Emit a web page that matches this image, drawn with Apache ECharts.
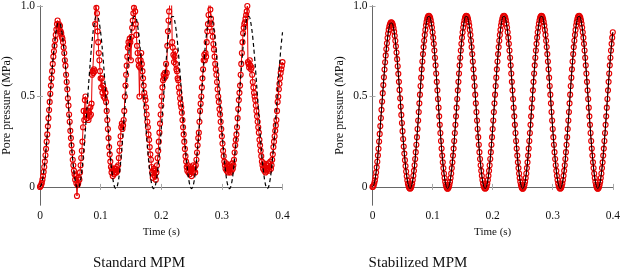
<!DOCTYPE html>
<html><head><meta charset="utf-8">
<script src="https://cdn.jsdelivr.net/npm/echarts@6/dist/echarts.min.js"></script>
<style>html,body{margin:0;padding:0;background:#fff}#c{width:623px;height:271px}</style>
</head><body><div id="c"></div>
<script>
// ---- data (pore pressure in MPa) ----
const stdStep = 0.001;   // s between Standard / Stabilized MPM samples
const anaStep = 0.0025;  // s between analytical samples
const xTicks = [0, 0.1, 0.2, 0.3, 0.4];
const yTicks = [0, 0.5, 1.0];

const analytical = [
0.000,0.014,0.056,0.123,0.211,0.314,0.426,0.540,0.649,0.745,0.823,0.878,0.906,0.906,0.878,0.822,0.743,0.646,0.536,0.421,0.308,0.204,0.115,0.047,0.005,
-0.010,0.005,0.049,0.120,0.212,0.320,0.438,0.558,0.672,0.773,0.855,0.912,0.942,0.942,0.912,0.855,0.773,0.672,0.558,0.438,0.320,0.212,0.120,0.049,0.005,
-0.010,0.005,0.049,0.120,0.212,0.320,0.438,0.558,0.672,0.773,0.855,0.912,0.942,0.942,0.912,0.855,0.773,0.672,0.558,0.438,0.320,0.212,0.120,0.049,0.005,
-0.010,0.005,0.049,0.120,0.212,0.320,0.438,0.558,0.672,0.773,0.855,0.912,0.942,0.942,0.912,0.855,0.773,0.672,0.558,0.438,0.320,0.212,0.120,0.049,0.005,
-0.010,0.005,0.049,0.120,0.212,0.320,0.438,0.558,0.672,0.773,0.855,0.912,0.942,0.942,0.912,0.855,0.773,0.672,0.558,0.438,0.320,0.212,0.120,0.049,0.005,
-0.010,0.005,0.049,0.120,0.212,0.320,0.438,0.558,0.672,0.773,0.855,0.912,0.942,0.942,0.912,0.855,0.773,0.672,0.558,0.438,0.320,0.212,0.120,0.049,0.005,
-0.010,0.005,0.049,0.120,0.212,0.320,0.438,0.558,0.672,0.773,0.855
];

const standardMPM = [
0.000,0.005,0.012,0.022,0.040,0.060,0.083,0.110,0.140,0.175,0.210,0.250,0.290,0.335,0.380,0.425,0.470,0.515,0.560,0.600,0.640,0.680,0.720,0.750,0.780,0.810,0.840,0.870,0.900,0.920,0.880,0.900,
0.87,0.89,0.86,0.85,0.83,0.82,0.80,0.77,0.74,0.70,0.67,0.62,0.58,0.54,0.49,0.45,0.40,0.36,0.31,0.27,0.23,0.19,0.15,0.12,0.09,0.07,0.04,0.06,0.02,-0.05,0.01,
0.02,0.05,0.04,0.08,0.12,0.16,0.20,0.25,0.33,0.42,0.37,0.48,0.50,0.42,0.40,0.38,0.42,0.37,0.41,0.39,0.44,0.40,0.46,0.62,0.64,0.63,0.65,0.64,0.90,1.02,0.99,
0.96,0.86,0.80,0.74,0.70,0.64,0.60,0.55,0.60,0.52,0.56,0.50,0.54,0.49,0.52,0.47,0.42,0.37,0.32,0.27,0.22,0.18,0.14,0.11,0.08,0.10,0.06,0.09,0.07,0.10,0.08,
0.10,0.08,0.11,0.09,0.12,0.16,0.20,0.24,0.28,0.33,0.35,0.32,0.34,0.37,0.42,0.50,0.56,0.62,0.67,0.72,0.77,0.80,0.78,0.82,0.80,0.70,0.83,0.88,0.92,0.96,0.99,1.02,
0.97,0.90,0.84,0.78,0.74,0.70,0.67,0.50,0.66,0.70,0.74,0.68,0.64,0.60,0.56,0.52,0.50,0.48,0.44,0.40,0.36,0.33,0.29,0.26,0.22,0.18,0.15,0.11,0.08,0.05,0.09,
0.10,0.06,0.09,0.04,0.08,0.12,0.16,0.20,0.25,0.30,0.35,0.40,0.45,0.50,0.55,0.59,0.62,0.60,0.63,0.61,0.68,0.63,0.78,0.86,0.92,0.97,1.01,1.05,1.08,1.04,0.80,
0.77,0.73,0.69,0.72,0.75,0.68,0.65,0.64,0.60,0.59,0.55,0.52,0.49,0.46,0.44,0.41,0.37,0.33,0.29,0.25,0.21,0.17,0.14,0.11,0.09,0.12,0.08,0.10,0.07,0.11,0.09,
0.06,0.10,0.08,0.12,0.09,0.11,0.08,0.12,0.15,0.19,0.23,0.27,0.30,0.36,0.42,0.46,0.50,0.55,0.60,0.65,0.70,0.73,0.70,0.74,0.72,0.80,0.86,0.90,0.95,1.05,1.08,0.98,
0.93,0.90,0.86,0.83,0.79,0.76,0.72,0.68,0.65,0.62,0.58,0.54,0.50,0.47,0.43,0.40,0.36,0.32,0.28,0.24,0.20,0.17,0.14,0.12,0.10,0.13,0.09,0.12,0.08,0.11,0.09,
0.12,0.08,0.11,0.09,0.13,0.10,0.12,0.15,0.19,0.23,0.26,0.29,0.33,0.38,0.43,0.48,0.52,0.56,0.62,0.68,0.74,0.80,0.85,0.88,0.90,0.91,0.93,0.95,0.97,1.00,0.69,
0.68,0.66,0.70,0.67,0.65,0.66,0.62,0.58,0.55,0.52,0.50,0.48,0.45,0.42,0.39,0.36,0.33,0.30,0.26,0.23,0.20,0.17,0.14,0.12,0.10,0.13,0.09,0.11,0.08,0.12,0.09,
0.12,0.10,0.13,0.09,0.11,0.14,0.10,0.12,0.15,0.18,0.22,0.25,0.28,0.31,0.34,0.37,0.42,0.47,0.50,0.54,0.57,0.60,0.63,0.65,0.67,0.69
];

const stabilizedMPM = [
0.000,0.002,0.009,0.021,0.036,0.056,0.080,0.108,0.139,0.174,0.211,0.251,0.293,0.336,0.381,0.426,0.472,0.518,0.563,0.606,0.649,0.689,0.727,0.762,0.794,0.823,0.848,0.869,0.886,0.898,0.906,0.910,
0.909,0.903,0.893,0.878,0.859,0.835,0.808,0.777,0.743,0.706,0.667,0.625,0.581,0.536,0.490,0.444,0.398,0.353,0.308,0.265,0.223,0.184,0.148,0.115,0.085,0.059,0.036,0.018,0.005,-0.005,-0.009,
-0.009,-0.005,0.005,0.019,0.038,0.061,0.089,0.120,0.154,0.192,0.233,0.275,0.320,0.367,0.414,0.462,0.510,0.558,0.604,0.650,0.693,0.734,0.773,0.808,0.840,0.868,0.893,0.912,0.928,0.939,0.945,
0.946,0.942,0.934,0.921,0.903,0.881,0.855,0.825,0.791,0.754,0.714,0.672,0.627,0.581,0.534,0.486,0.438,0.390,0.343,0.298,0.254,0.212,0.173,0.136,0.104,0.074,0.049,0.028,0.012,0.000,-0.008,
-0.010,-0.008,0.000,0.012,0.028,0.049,0.074,0.104,0.136,0.173,0.212,0.254,0.298,0.343,0.390,0.438,0.486,0.534,0.581,0.627,0.672,0.714,0.754,0.791,0.825,0.855,0.881,0.903,0.921,0.934,0.942,0.946,
0.945,0.939,0.928,0.912,0.893,0.868,0.840,0.808,0.773,0.734,0.693,0.650,0.604,0.558,0.510,0.462,0.414,0.367,0.320,0.275,0.233,0.192,0.154,0.120,0.089,0.061,0.038,0.019,0.005,-0.005,-0.009,
-0.009,-0.005,0.005,0.019,0.038,0.061,0.089,0.120,0.154,0.192,0.233,0.275,0.320,0.367,0.414,0.462,0.510,0.558,0.604,0.650,0.693,0.734,0.773,0.808,0.840,0.868,0.893,0.912,0.928,0.939,0.945,
0.946,0.942,0.934,0.921,0.903,0.881,0.855,0.825,0.791,0.754,0.714,0.672,0.627,0.581,0.534,0.486,0.438,0.390,0.343,0.298,0.254,0.212,0.173,0.136,0.104,0.074,0.049,0.028,0.012,0.000,-0.008,
-0.010,-0.008,0.000,0.012,0.028,0.049,0.074,0.104,0.136,0.173,0.212,0.254,0.298,0.343,0.390,0.438,0.486,0.534,0.581,0.627,0.672,0.714,0.754,0.791,0.825,0.855,0.881,0.903,0.921,0.934,0.942,0.946,
0.945,0.939,0.928,0.912,0.893,0.868,0.840,0.808,0.773,0.734,0.693,0.650,0.604,0.558,0.510,0.462,0.414,0.367,0.320,0.275,0.233,0.192,0.154,0.120,0.089,0.061,0.038,0.019,0.005,-0.005,-0.009,
-0.009,-0.005,0.005,0.019,0.038,0.061,0.089,0.120,0.154,0.192,0.233,0.275,0.320,0.367,0.414,0.462,0.510,0.558,0.604,0.650,0.693,0.734,0.773,0.808,0.840,0.868,0.893,0.912,0.928,0.939,0.945,
0.946,0.942,0.934,0.921,0.903,0.881,0.855,0.825,0.791,0.754,0.714,0.672,0.627,0.581,0.534,0.486,0.438,0.390,0.343,0.298,0.254,0.212,0.173,0.136,0.104,0.074,0.049,0.028,0.012,0.000,-0.008,
-0.010,-0.008,0.000,0.012,0.028,0.049,0.074,0.104,0.136,0.173,0.212,0.254,0.298,0.343,0.390,0.438,0.486,0.534,0.581,0.627,0.672,0.714,0.754,0.791,0.825,0.855
];

const panelTitles = ['Standard MPM', 'Stabilized MPM'];

// ---- chart ----
const FONT = "'Liberation Serif', 'DejaVu Serif', serif";
const RED = '#e60000';
const toPairs = (arr, step) => arr.map((v, i) => [i * step, v]);

function fmt(v) { return Math.abs(v) < 1e-9 ? '0' : v.toFixed(1); }

const grids = [
  { left: 39.5, top: 5, width: 243, height: 200 },
  { left: 372.5, top: 5, width: 243, height: 200 }
];

const boxLine = { show: true, lineStyle: { color: '#666', width: 1 } };
const tickStyle = { show: true, inside: true, length: 3, lineStyle: { color: '#a8a8a8', width: 1 } };
const labelStyle = { fontFamily: FONT, fontSize: 11.5, color: '#111' };

const xAxes = [], yAxes = [];
grids.forEach((g, gi) => {
  xAxes.push({
    type: 'value', gridIndex: gi, position: 'bottom', min: xTicks[0], max: xTicks[xTicks.length - 1], interval: 0.1,
    axisLine: boxLine, axisTick: tickStyle, splitLine: { show: false },
    axisLabel: Object.assign({ margin: 5, formatter: fmt }, labelStyle),
    name: 'Time (s)', nameLocation: 'middle', nameGap: 21,
    nameTextStyle: { fontFamily: FONT, fontSize: 11, color: '#111' }
  });
  xAxes.push({
    type: 'value', gridIndex: gi, position: 'top', min: xTicks[0], max: xTicks[xTicks.length - 1], interval: 0.1,
    axisLine: boxLine, axisTick: tickStyle, splitLine: { show: false }, axisLabel: { show: false }
  });
  yAxes.push({
    type: 'value', gridIndex: gi, position: 'left', min: -0.1, max: 1.0,
    axisLine: boxLine, axisTick: Object.assign({ customValues: yTicks }, tickStyle), splitLine: { show: false },
    axisLabel: Object.assign({ margin: 5, formatter: fmt, customValues: yTicks }, labelStyle),
    name: 'Pore pressure (MPa)', nameLocation: 'middle', nameGap: 27,
    nameTextStyle: { fontFamily: FONT, fontSize: 12, color: '#111' }
  });
  yAxes.push({
    type: 'value', gridIndex: gi, position: 'right', min: -0.1, max: 1.0,
    axisLine: boxLine, axisTick: Object.assign({ customValues: yTicks }, tickStyle), splitLine: { show: false },
    axisLabel: { show: false }
  });
});

function mpmSeries(arr, gi) {
  return {
    type: 'line', xAxisIndex: gi * 2, yAxisIndex: gi * 2, z: 2,
    data: toPairs(arr, stdStep), showSymbol: true, showAllSymbol: true,
    symbol: 'circle', symbolSize: 5,
    itemStyle: { color: 'rgba(255,255,255,0)', borderColor: RED, borderWidth: 1.15 },
    lineStyle: { color: RED, width: 1 }, emphasis: { disabled: true }, clip: true
  };
}
function anaSeries(gi, dashed) {
  return {
    type: 'line', xAxisIndex: gi * 2, yAxisIndex: gi * 2, z: 3,
    data: toPairs(analytical, anaStep), showSymbol: false, smooth: 0.3,
    lineStyle: { color: '#000', width: dashed ? 1.2 : 1, type: dashed ? [4, 3] : 'solid' },
    emphasis: { disabled: true }, clip: true
  };
}

const chart = echarts.init(document.getElementById('c'), null, { renderer: 'canvas' });
chart.setOption({
  animation: false,
  backgroundColor: '#fff',
  grid: grids,
  xAxis: xAxes,
  yAxis: yAxes,
  series: [
    mpmSeries(standardMPM, 0), anaSeries(0, true),
    mpmSeries(stabilizedMPM, 1), anaSeries(1, false)
  ],
  graphic: [
    { type: 'text', x: 139, y: 263, style: { text: panelTitles[0], font: "15px " + FONT, fill: '#111', textAlign: 'center', textVerticalAlign: 'middle' } },
    { type: 'text', x: 418, y: 263, style: { text: panelTitles[1], font: "15px " + FONT, fill: '#111', textAlign: 'center', textVerticalAlign: 'middle' } }
  ]
});
</script></body></html>
